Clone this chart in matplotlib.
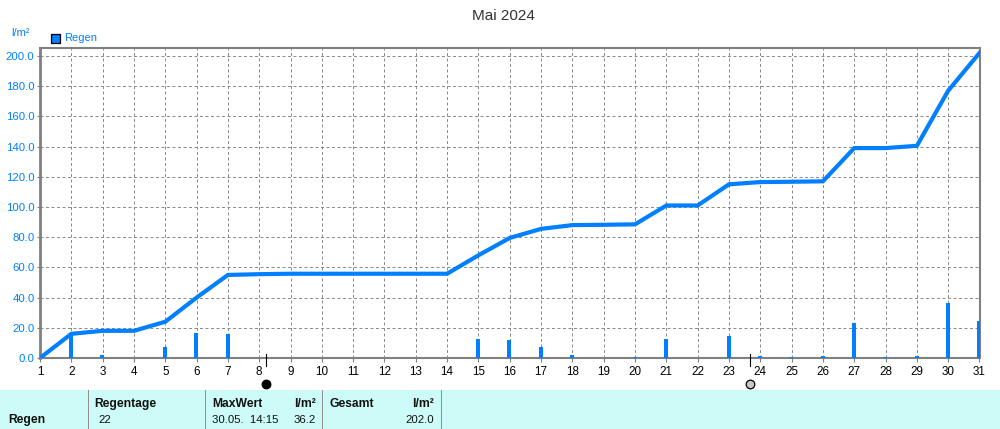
import matplotlib
matplotlib.use("Agg")
import matplotlib.pyplot as plt
from matplotlib.patches import Rectangle
from matplotlib.transforms import blended_transform_factory

# Daily rain and running total
days = list(range(1, 32))
total = [0, 16, 18, 18, 24, 40, 55, 55.5, 55.8, 55.8, 55.8, 55.8, 55.8, 55.8, 68, 79.5,
         85.5, 88, 88.2, 88.5, 101, 101, 115, 116.5, 116.7, 117, 139, 139, 140.5, 177, 202]
rain = [0, 16, 2, 0, 7.5, 16.5, 16, 0, 0, 0, 0, 0, 0, 0, 12.5, 12, 7, 2, 0, 0.7, 12.5,
        0, 14.5, 1.5, 0.5, 1, 23, 0.5, 1.5, 36.2, 24.5]
y_ticks = [0, 20, 40, 60, 80, 100, 120, 140, 160, 180, 200]
new_moon = 8.21
full_moon = 23.66

blue = "#0080ff"
gray = "#808080"
W, H = 1000, 429
plt.rcParams["font.family"] = ["Liberation Sans", "DejaVu Sans"]
plt.rcParams["font.size"] = 8

fig = plt.figure(figsize=(10, 4.29), dpi=100)
ax = fig.add_axes([40 / W, 1 - 358 / H, 939.5 / W, 310.5 / H])

# rain bars sit around the day line, a bit to the left
ax.bar(days, rain, width=0.13, align="edge", color=blue, linewidth=0, zorder=3)
for b in ax.patches:
    b.set_x(b.get_x() - 0.075)
ax.plot(days, total, color=blue, lw=3.0, zorder=4, solid_joinstyle="miter")

ax.set_xlim(1, 31)
ax.set_ylim(0, 205.6)
ax.set_xticks(days)
ax.set_yticks(y_ticks)
ax.set_yticklabels([f"{v:.1f}" for v in y_ticks], color=blue, fontsize=8.2)
ax.tick_params(axis="x", length=3, width=0.8, color=gray, pad=3, labelsize=8.4)
ax.tick_params(axis="y", length=2.5, width=0.8, color=gray, pad=1.5)
ax.grid(True, color="#8c8c8c", ls=(0, (3, 2.5)), lw=0.72)
ax.set_axisbelow(True)
for name, sp in ax.spines.items():
    sp.set_color(gray)
    sp.set_linewidth(1.5)
ax.spines["left"].set_linewidth(2)

fig.text(503 / W, 1 - 16 / H, "Mai 2024", ha="center", va="center", fontsize=11, color="#333333")
fig.text(21 / W, 1 - 33 / H, "l/m²", ha="center", va="center", color=blue, fontsize=8)
fig.text(64 / W, 1 - 38 / H, "Regen", ha="left", va="center", color=blue, fontsize=8)
fig.add_artist(Rectangle((50.5 / W, 1 - 43 / H), 9 / W, 9 / H, transform=fig.transFigure,
                         facecolor=blue, edgecolor="black", lw=0.9))

# moon phases below the axis
trans = blended_transform_factory(ax.transData, fig.transFigure)
for d, col in [(new_moon, "black"), (full_moon, "#c8c8c8")]:
    ax.plot([d, d], [1 - 354 / H, 1 - 366 / H], color="black", lw=0.8, transform=trans, clip_on=False, zorder=5)
    ax.plot([d], [1 - 383.5 / H], marker="o", ms=6.2, mfc=col, mec="black", mew=0.9,
            transform=trans, clip_on=False, zorder=5)

# summary strip at the bottom
fig.add_artist(Rectangle((0, 0), 1, 39 / H, transform=fig.transFigure, facecolor="#ccfbf8", edgecolor="none"))
for px in [88, 205, 322, 441]:
    fig.add_artist(Rectangle((px / W, 0), 1.2 / W, 39 / H, transform=fig.transFigure, facecolor="#909090", edgecolor="none"))


def strip(x, y, s, ha="left", bold=False):
    fig.text(x / W, 1 - y / H, s, ha=ha, va="center", fontsize=8.7 if bold else 8.2,
             fontweight="bold" if bold else "normal", color="#111111")


strip(8, 420, "Regen", bold=True)
strip(94, 404, "Regentage", bold=True)
strip(98, 420, "22")
strip(212, 404, "MaxWert", bold=True)
strip(316, 404, "l/m²", ha="right", bold=True)
strip(212, 420, "30.05.  14:15")
strip(316, 420, "36.2", ha="right")
strip(330, 404, "Gesamt", bold=True)
strip(434, 404, "l/m²", ha="right", bold=True)
strip(434, 420, "202.0", ha="right")

fig.savefig("out.png", dpi=100)
